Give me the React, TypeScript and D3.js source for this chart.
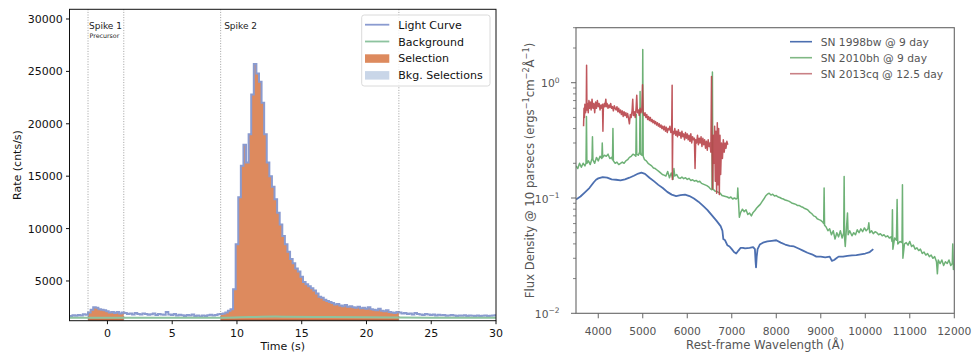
import React from "react";
import * as d3 from "d3";

// ---------- Left panel data: light curve ----------
const lcStart = -2.9; // s, start of first bin
const lcBinWidth = 0.2; // s
const lcRates = [
  1650, 1720, 1680, 1760, 1700, 1820, 1780, 2000, 2250, 2500,
  2450, 2300, 2250, 2200, 2100, 2000, 2050, 1950, 2050, 1900,
  2000, 1950, 1850, 1900, 1800, 1950, 1850, 1800, 1900, 1850,
  1780, 1820, 1900, 1750, 1850, 1800, 1780, 2050, 1800, 1750,
  1850, 1700, 1780, 1720, 1650, 1750, 1700, 1800, 1650, 1700,
  1620, 1700, 1650, 1720, 1780, 1700, 1750, 1820, 1850, 1900,
  2000, 2150, 2300, 4200, 8500, 13000, 16000, 18000, 16300, 19000,
  22800, 25700, 24800, 24000, 22000, 19000, 16300, 15000, 14000, 12800,
  11500, 10400, 9300, 8500, 7800, 7100, 6700, 6200, 5900, 5400,
  4900, 4700, 4500, 4300, 4100, 3800, 3500, 3400, 3200, 3100,
  3000, 2900, 2750, 2800, 2650, 2600, 2700, 2550, 2600, 2500,
  2450, 2550, 2400, 2450, 2350, 2500, 2300, 2250, 2200, 2350,
  2150, 2100, 2200, 2050, 2000, 1950, 2050, 2000, 1900, 1950,
  1850, 1900, 1800, 1950, 1850, 1800, 1750, 1850, 1800, 1750,
  1800, 1700, 1780, 1720, 1750, 1680, 1700, 1750, 1700, 1650,
  1700, 1680, 1720, 1650, 1700, 1680, 1650, 1700, 1650, 1680,
  1700, 1650, 1680, 1700, 1720,
];
const bgTimes = [-3, 5, 9, 11, 13, 16, 20, 25, 30];
const bgRates = [1480, 1490, 1500, 1560, 1600, 1570, 1530, 1500, 1490];
const selections: [number, number][] = [
  [-1.5, 1.26],
  [8.74, 22.5],
];
const bkgBoundary = [22.5];
const lcXTicks = [0, 5, 10, 15, 20, 25, 30];
const lcYTicks = [5000, 10000, 15000, 20000, 25000, 30000];
const lcLegend = ["Light Curve", "Background", "Selection", "Bkg. Selections"];

// ---------- Right panel data: spectra [wavelength Å, flux] ----------
const sn1998bw: [number, number][] = [
  [3500, 0.097], [3600, 0.103], [3700, 0.112], [3800, 0.122], [3900, 0.137], [3950, 0.144],
  [4000, 0.148], [4100, 0.152], [4200, 0.15], [4300, 0.145], [4400, 0.144], [4500, 0.142],
  [4600, 0.145], [4700, 0.15], [4800, 0.156], [4900, 0.163], [4970, 0.166], [5050, 0.162],
  [5150, 0.15], [5250, 0.14], [5350, 0.13], [5450, 0.122], [5550, 0.113], [5650, 0.107],
  [5750, 0.104], [5850, 0.106], [5950, 0.107], [6050, 0.104], [6150, 0.099], [6250, 0.093],
  [6350, 0.086], [6450, 0.079], [6550, 0.071], [6650, 0.064], [6750, 0.057], [6790, 0.052],
  [6810, 0.044], [6850, 0.043], [6900, 0.039], [6950, 0.038], [7000, 0.036], [7050, 0.034],
  [7100, 0.033], [7150, 0.035], [7200, 0.037], [7250, 0.037], [7300, 0.0365], [7400, 0.037],
  [7480, 0.0375], [7520, 0.036], [7535, 0.028], [7545, 0.025], [7560, 0.031], [7580, 0.036],
  [7630, 0.0395], [7700, 0.041], [7800, 0.042], [7900, 0.0425], [8000, 0.043], [8100, 0.041],
  [8200, 0.0395], [8300, 0.0385], [8400, 0.038], [8500, 0.0365], [8600, 0.035], [8700, 0.0335],
  [8800, 0.0325], [8900, 0.031], [9000, 0.031], [9100, 0.0305], [9200, 0.031], [9250, 0.0285],
  [9300, 0.029], [9350, 0.03], [9400, 0.031], [9500, 0.031], [9600, 0.0315], [9700, 0.0318],
  [9800, 0.032], [9900, 0.0325], [10000, 0.033], [10100, 0.034], [10180, 0.036],
];
const sn2010bh: [number, number][] = [
  [3500, 0.19], [3540, 0.18], [3580, 0.2], [3620, 0.185], [3660, 0.2], [3700, 0.19], [3725, 0.2],
  [3735, 0.51], [3745, 0.2], [3780, 0.21], [3820, 0.195], [3860, 0.22], [3870, 0.34], [3880, 0.215],
  [3920, 0.2], [3960, 0.225], [4000, 0.21], [4040, 0.23], [4080, 0.22], [4090, 0.3], [4100, 0.225],
  [4140, 0.235], [4180, 0.23], [4220, 0.24], [4260, 0.22], [4300, 0.225], [4320, 0.215], [4330, 0.4],
  [4340, 0.21], [4380, 0.2], [4420, 0.205], [4460, 0.195], [4500, 0.2], [4540, 0.205], [4580, 0.2],
  [4620, 0.21], [4660, 0.215], [4700, 0.225], [4740, 0.23], [4780, 0.24], [4820, 0.235], [4845, 0.23],
  [4855, 0.53], [4865, 0.24], [4900, 0.235], [4930, 0.25], [4940, 0.84], [4950, 0.24], [4980, 0.235],
  [4990, 0.25], [5000, 1.94], [5010, 0.23], [5040, 0.215], [5080, 0.21], [5120, 0.2], [5160, 0.195],
  [5200, 0.19], [5240, 0.182], [5280, 0.18], [5320, 0.175], [5360, 0.17], [5400, 0.165], [5440, 0.16],
  [5480, 0.158], [5520, 0.155], [5560, 0.17], [5600, 0.15], [5640, 0.165], [5680, 0.145], [5700, 0.18],
  [5720, 0.155], [5760, 0.16], [5800, 0.15], [5840, 0.148], [5880, 0.152], [5920, 0.147], [5960, 0.15],
  [6000, 0.145], [6040, 0.148], [6080, 0.142], [6120, 0.144], [6160, 0.14], [6200, 0.142], [6240, 0.138],
  [6280, 0.14], [6320, 0.134], [6360, 0.132], [6400, 0.13], [6440, 0.128], [6480, 0.125], [6520, 0.12],
  [6555, 0.118], [6565, 1.24], [6575, 0.12], [6620, 0.115], [6660, 0.114], [6700, 0.112], [6740, 0.11],
  [6780, 0.105], [6820, 0.104], [6860, 0.103], [6900, 0.102], [6940, 0.1], [6980, 0.102], [7020, 0.098],
  [7060, 0.1], [7100, 0.098], [7125, 0.1], [7135, 0.122], [7150, 0.095], [7170, 0.068], [7200, 0.075],
  [7240, 0.08], [7280, 0.076], [7320, 0.079], [7360, 0.072], [7400, 0.074], [7440, 0.07], [7480, 0.075],
  [7520, 0.078], [7560, 0.082], [7600, 0.085], [7640, 0.088], [7680, 0.093], [7720, 0.098], [7760, 0.104],
  [7800, 0.108], [7840, 0.11], [7880, 0.106], [7920, 0.108], [7960, 0.104], [8000, 0.105], [8040, 0.102],
  [8080, 0.101], [8120, 0.099], [8160, 0.098], [8200, 0.096], [8240, 0.095], [8280, 0.094], [8320, 0.092],
  [8360, 0.09], [8400, 0.089], [8440, 0.088], [8480, 0.086], [8520, 0.086], [8560, 0.084], [8600, 0.083],
  [8640, 0.081], [8680, 0.08], [8720, 0.078], [8760, 0.075], [8800, 0.073], [8840, 0.07], [8880, 0.069],
  [8920, 0.066], [8960, 0.065], [9000, 0.064], [9040, 0.062], [9065, 0.06], [9075, 0.122], [9085, 0.058],
  [9120, 0.056], [9160, 0.052], [9200, 0.054], [9240, 0.048], [9280, 0.052], [9320, 0.044], [9360, 0.05],
  [9400, 0.046], [9440, 0.052], [9480, 0.045], [9515, 0.05], [9525, 0.154], [9535, 0.045], [9550, 0.038],
  [9570, 0.05], [9600, 0.074], [9615, 0.048], [9650, 0.052], [9700, 0.047], [9740, 0.05], [9780, 0.048],
  [9820, 0.053], [9860, 0.05], [9900, 0.054], [9940, 0.051], [9980, 0.055], [10020, 0.052], [10060, 0.054],
  [10080, 0.061], [10100, 0.05], [10140, 0.052], [10180, 0.049], [10220, 0.051], [10260, 0.05], [10300, 0.048],
  [10340, 0.049], [10380, 0.047], [10420, 0.048], [10460, 0.046], [10500, 0.047], [10540, 0.045], [10580, 0.046],
  [10600, 0.042], [10610, 0.079], [10620, 0.036], [10660, 0.045], [10700, 0.043], [10715, 0.097], [10730, 0.04],
  [10780, 0.042], [10825, 0.041], [10835, 0.13], [10845, 0.03], [10880, 0.04], [10920, 0.041], [10960, 0.039],
  [11000, 0.042], [11040, 0.038], [11080, 0.039], [11120, 0.036], [11160, 0.037], [11200, 0.035], [11240, 0.036],
  [11280, 0.033], [11320, 0.034], [11360, 0.032], [11400, 0.033], [11440, 0.031], [11480, 0.032], [11520, 0.03],
  [11560, 0.031], [11600, 0.028], [11620, 0.022], [11640, 0.029], [11680, 0.027], [11720, 0.029], [11760, 0.026],
  [11800, 0.028], [11840, 0.027], [11880, 0.029], [11920, 0.026], [11955, 0.027], [11965, 0.04], [11980, 0.024],
  [12000, 0.027],
];
const sn2013cq: [number, number][] = [
  [3670, 0.42], [3680, 0.6], [3690, 0.5], [3700, 0.65], [3715, 0.55], [3730, 0.6], [3738, 1.42], [3746, 0.58],
  [3760, 0.66], [3775, 0.55], [3790, 0.7], [3805, 0.6], [3820, 0.68], [3840, 0.58], [3860, 0.72], [3880, 0.6],
  [3900, 0.66], [3920, 0.55], [3940, 0.68], [3960, 0.6], [3980, 0.7], [4000, 0.62], [4020, 0.66], [4040, 0.58],
  [4060, 0.64], [4080, 0.6], [4095, 0.65], [4105, 0.38], [4115, 0.6], [4135, 0.66], [4150, 0.62], [4170, 0.72],
  [4185, 0.62], [4200, 0.66], [4220, 0.6], [4240, 0.64], [4260, 0.61], [4280, 0.66], [4300, 0.6], [4320, 0.62],
  [4340, 0.57], [4360, 0.63], [4380, 0.6], [4400, 0.58], [4420, 0.62], [4440, 0.56], [4460, 0.6], [4480, 0.55],
  [4500, 0.58], [4520, 0.53], [4540, 0.57], [4560, 0.51], [4580, 0.56], [4600, 0.52], [4620, 0.55], [4640, 0.5],
  [4660, 0.54], [4680, 0.49], [4700, 0.44], [4720, 0.53], [4740, 0.5], [4760, 0.57], [4775, 0.72], [4790, 0.52],
  [4810, 0.56], [4830, 0.5], [4850, 0.6], [4865, 0.78], [4880, 0.55], [4900, 0.58], [4920, 0.52], [4940, 0.6],
  [4960, 0.55], [4980, 0.6], [4995, 0.96], [5010, 0.55], [5030, 0.52], [5050, 0.55], [5070, 0.5], [5090, 0.53],
  [5110, 0.48], [5130, 0.51], [5150, 0.47], [5170, 0.5], [5190, 0.46], [5210, 0.48], [5230, 0.45], [5250, 0.47],
  [5270, 0.44], [5290, 0.46], [5310, 0.43], [5330, 0.45], [5350, 0.42], [5370, 0.44], [5390, 0.41], [5410, 0.43],
  [5430, 0.4], [5450, 0.42], [5470, 0.39], [5490, 0.42], [5510, 0.38], [5530, 0.41], [5550, 0.37], [5570, 0.4],
  [5590, 0.39], [5610, 0.42], [5630, 0.37], [5650, 0.4], [5660, 0.95], [5665, 0.145], [5675, 0.38], [5700, 0.36],
  [5720, 0.4], [5740, 0.35], [5760, 0.38], [5780, 0.34], [5800, 0.39], [5820, 0.35], [5840, 0.37], [5860, 0.33],
  [5880, 0.38], [5900, 0.34], [5920, 0.36], [5940, 0.32], [5960, 0.37], [5980, 0.33], [6000, 0.36], [6020, 0.32],
  [6040, 0.35], [6060, 0.31], [6080, 0.36], [6100, 0.3], [6120, 0.34], [6140, 0.32], [6160, 0.33], [6175, 0.18],
  [6190, 0.32], [6210, 0.3], [6230, 0.35], [6250, 0.29], [6270, 0.33], [6290, 0.3], [6310, 0.34], [6330, 0.28],
  [6350, 0.33], [6370, 0.29], [6390, 0.32], [6410, 0.27], [6430, 0.31], [6450, 0.26], [6470, 0.32], [6490, 0.28],
  [6510, 0.3], [6530, 0.25], [6545, 1.13], [6555, 0.3], [6570, 0.12], [6585, 0.35], [6600, 0.2], [6615, 0.42],
  [6630, 0.14], [6645, 0.38], [6660, 0.11], [6675, 0.45], [6690, 0.13], [6705, 0.4], [6720, 0.107], [6735, 0.35],
  [6750, 0.16], [6770, 0.3], [6790, 0.22], [6810, 0.32], [6830, 0.25], [6850, 0.3], [6870, 0.27], [6890, 0.31],
  [6910, 0.29],
];
const specNames = ["SN 1998bw @ 9 day", "SN 2010bh @ 9 day", "SN 2013cq @ 12.5 day"];
const specXTicks = [4000, 5000, 6000, 7000, 8000, 9000, 10000, 11000, 12000];
const specYDecades = [-2, -1, 0];

const FONT = "DejaVu Sans, Liberation Sans, sans-serif";

function LeftPanel() {
  const x = d3.scaleLinear().domain([-2.93, 30]).range([69.5, 496]);
  const y = d3.scaleLinear().domain([1210, 30925]).range([320.7, 9.3]);
  const [x0, x1] = x.range();
  const [yb, yt] = y.range();
  const pts: [number, number][] = lcRates.map((r, i) => [lcStart + i * lcBinWidth, r]);
  pts.push([lcStart + lcRates.length * lcBinWidth, lcRates[lcRates.length - 1]]);
  const line = d3
    .line<[number, number]>()
    .x((d) => x(d[0]))
    .y((d) => y(d[1]))
    .curve(d3.curveStepAfter);
  const area = d3
    .area<[number, number]>()
    .x((d) => x(d[0]))
    .y0(yb)
    .y1((d) => y(d[1]))
    .curve(d3.curveStepAfter);
  const bgLine = d3
    .line<number>()
    .x((_, i) => x(bgTimes[i]))
    .y((d) => y(d))
    .curve(d3.curveMonotoneX);
  const orange = "#dd8a5e";
  const lcColor = "#8a9bd0";
  const bgColor = "#8dc39f";
  const boundaries = [...selections.flat(), ...bkgBoundary].filter((v, i, a) => a.indexOf(v) === i);
  return (
    <g fontFamily={FONT}>
      <defs>
        <clipPath id="lc-area">
          <rect x={x0} y={yt} width={x1 - x0} height={yb - yt} />
        </clipPath>
        <clipPath id="lc-sel">
          {selections.map(([a, b], i) => (
            <rect key={i} x={x(a)} y={yt} width={x(b) - x(a)} height={yb - yt} />
          ))}
        </clipPath>
      </defs>
      <g clipPath="url(#lc-area)">
        <g clipPath="url(#lc-sel)">
          <path d={area(pts) || ""} fill={orange} />
        </g>
        <path d={line(pts) || ""} fill="none" stroke={lcColor} strokeWidth={2} />
        <path d={bgLine(bgRates) || ""} fill="none" stroke={bgColor} strokeWidth={2} />
        {selections.map(([a, b], i) => (
          <line key={i} x1={x(a)} x2={x(b)} y1={yb - 0.6} y2={yb - 0.6} stroke="#a8502c" strokeWidth={1.3} />
        ))}
      </g>
      {boundaries.map((t, i) => (
        <line key={i} x1={x(t)} x2={x(t)} y1={yt} y2={yb} stroke="#888" strokeWidth={0.8} strokeDasharray="1,1.6" />
      ))}
      <text x={x(selections[0][0]) + 1} y={29} fontSize={9} fill="#222">Spike 1</text>
      <text x={x(selections[0][0]) + 1.5} y={38} fontSize={6.3} fill="#222">Precursor</text>
      <text x={x(selections[1][0]) + 3.5} y={29} fontSize={9} fill="#222">Spike 2</text>
      {/* legend */}
      <g>
        <rect x={361.7} y={15} width={128.3} height={71} rx={2.5} fill="white" fillOpacity={0.8} stroke="#d0d0d0" strokeWidth={0.8} />
        {lcLegend.map((lab, i) => {
          const ry = 24.7 + i * 16.8;
          return (
            <g key={lab}>
              {i === 0 && <line x1={365} x2={389.3} y1={ry} y2={ry} stroke={lcColor} strokeWidth={1.8} />}
              {i === 1 && <line x1={365} x2={389.3} y1={ry} y2={ry} stroke={bgColor} strokeWidth={1.8} />}
              {i === 2 && <rect x={365} y={ry - 4} width={24.3} height={8.5} fill={orange} />}
              {i === 3 && <rect x={365} y={ry - 4} width={24.3} height={8.5} fill="#c9d6e8" />}
              <text x={398.3} y={ry + 4} fontSize={11} fill="#111">{lab}</text>
            </g>
          );
        })}
      </g>
      {/* frame */}
      <rect x={x0} y={yt} width={x1 - x0} height={yb - yt} fill="none" stroke="#111" strokeWidth={1} />
      {lcXTicks.map((t) => (
        <g key={t}>
          <line x1={x(t)} x2={x(t)} y1={yb} y2={yb + 3.5} stroke="#111" />
          <text x={x(t)} y={337.3} fontSize={11} textAnchor="middle" fill="#111">{t}</text>
        </g>
      ))}
      {lcYTicks.map((v) => (
        <g key={v}>
          <line x1={x0 - 3.5} x2={x0} y1={y(v)} y2={y(v)} stroke="#111" />
          <text x={62.7} y={y(v) + 4} fontSize={11} textAnchor="end" fill="#111">{v}</text>
        </g>
      ))}
      <text x={(x0 + x1) / 2} y={350} fontSize={11} textAnchor="middle" fill="#111">Time (s)</text>
      <text transform={`translate(21,${(yt + yb) / 2}) rotate(-90)`} fontSize={11} textAnchor="middle" fill="#111">
        Rate (cnts/s)
      </text>
    </g>
  );
}

function RightPanel() {
  const x = d3.scaleLinear().domain([3500, 12000]).range([576, 954.3]);
  const y = d3.scaleLog().domain([0.01, 3]).range([313.3, 27.7]);
  const [x0, x1] = x.range();
  const [yb, yt] = y.range();
  const line = d3
    .line<[number, number]>()
    .x((d) => x(d[0]))
    .y((d) => y(d[1]));
  const series = [
    { data: sn1998bw, color: "#4c6fb0", op: 1, w: 1.8 },
    { data: sn2010bh, color: "#55a35e", op: 0.85, w: 1.5 },
    { data: sn2013cq, color: "#b8444a", op: 0.9, w: 1.5 },
  ];
  const legendColors = ["#4c6fb0", "#80b884", "#c98085"];
  const minor: number[] = [];
  for (const dec of specYDecades) {
    for (let m = 2; m <= 9; m++) {
      const v = m * Math.pow(10, dec);
      if (v <= 3) minor.push(v);
    }
  }
  const gray = "#555";
  return (
    <g fontFamily={FONT}>
      <defs>
        <clipPath id="spec-area">
          <rect x={x0} y={yt} width={x1 - x0} height={yb - yt} />
        </clipPath>
      </defs>
      <g clipPath="url(#spec-area)">
        {series.map((s, i) => (
          <path key={i} d={line(s.data) || ""} fill="none" stroke={s.color} strokeOpacity={s.op} strokeWidth={s.w} strokeLinejoin="round" />
        ))}
      </g>
      <rect x={x0} y={yt} width={x1 - x0} height={yb - yt} fill="none" stroke="#666" strokeWidth={1.1} />
      {specXTicks.map((t) => (
        <g key={t}>
          <line x1={x(t)} x2={x(t)} y1={yb} y2={yb + 5} stroke="#666" />
          <text x={x(t)} y={335} fontSize={10.7} textAnchor="middle" fill={gray}>{t}</text>
        </g>
      ))}
      {specYDecades.map((d) => (
        <g key={d}>
          <line x1={x0 - 5} x2={x0} y1={y(Math.pow(10, d))} y2={y(Math.pow(10, d))} stroke="#666" />
          <text x={559.5} y={y(Math.pow(10, d)) + 4.5} fontSize={10.7} textAnchor="end" fill={gray}>
            10
            <tspan dy={-4.5} fontSize={7.5}>{d === 0 ? "0" : "\u2212" + Math.abs(d)}</tspan>
          </text>
        </g>
      ))}
      {minor.map((v) => (
        <line key={v} x1={x0 - 3} x2={x0} y1={y(v)} y2={y(v)} stroke="#666" strokeWidth={0.8} />
      ))}
      <text x={(x0 + x1) / 2} y={349} fontSize={11.7} textAnchor="middle" fill={gray}>
        Rest-frame Wavelength (Å)
      </text>
      <text transform={`translate(533.5,${(yt + yb) / 2}) rotate(-90)`} fontSize={11.7} textAnchor="middle" fill={gray}>
        Flux Density @ 10 parsecs (ergs
        <tspan dy={-4.5} fontSize={8.2}>−1</tspan>
        <tspan dy={4.5}>cm</tspan>
        <tspan dy={-4.5} fontSize={8.2}>−2</tspan>
        <tspan dy={4.5}>Å</tspan>
        <tspan dy={-4.5} fontSize={8.2}>−1</tspan>
        <tspan dy={4.5}>)</tspan>
      </text>
      {specNames.map((n, i) => {
        const ry = 41.7 + i * 16;
        return (
          <g key={n}>
            <line x1={790} x2={812} y1={ry} y2={ry} stroke={legendColors[i]} strokeWidth={1.6} />
            <text x={820.7} y={ry + 3.8} fontSize={10.7} fill={gray}>{n}</text>
          </g>
        );
      })}
    </g>
  );
}

export default function App() {
  return (
    <svg width={972} height={353} style={{ position: "absolute", left: 0, top: 0, background: "white" }}>
      <rect width={972} height={353} fill="white" />
      <LeftPanel />
      <RightPanel />
    </svg>
  );
}
